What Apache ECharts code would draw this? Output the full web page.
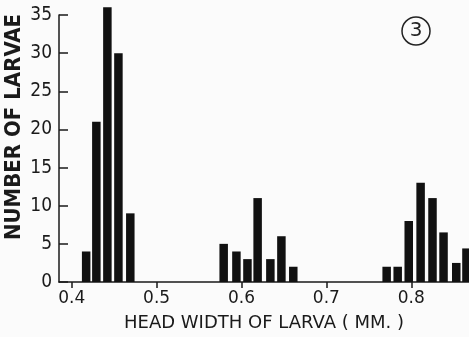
<!DOCTYPE html>
<html>
<head>
<meta charset="utf-8">
<script src="https://cdn.jsdelivr.net/npm/echarts@6/dist/echarts.min.js"></script>
<style>
  html, body { margin: 0; padding: 0; background: #fbfbfb; }
  #chart { width: 469px; height: 337px; }
</style>
</head>
<body>
<div id="chart"></div>
<script>
// head width classes (mm) and number of larvae
const headWidth = [
  0.417, 0.429, 0.442, 0.455, 0.469,
  0.579, 0.594, 0.607, 0.619, 0.634, 0.647, 0.661,
  0.771, 0.784, 0.797, 0.811, 0.825, 0.838, 0.853, 0.865,
]
const larvae = [
  4, 21, 36, 30, 9,
  5, 4, 3, 11, 3, 6, 2,
  2, 2, 8, 13, 11, 6.5, 2.5, 4.4,
]
const xTicks = [0.4, 0.5, 0.6, 0.7, 0.8]

const ink = '#1a1a1a'
const chart = echarts.init(document.getElementById('chart'))

const option = {
  backgroundColor: '#fbfbfb',
  animation: false,
  grid: { left: 59, right: 0, top: 15, bottom: 53.5 },
  xAxis: {
    type: 'value',
    min: 0.385,
    max: 0.868,
    splitLine: { show: false },
    axisLine: { lineStyle: { color: ink, width: 1.5 } },
    axisTick: {
      customValues: xTicks,
      length: 6,
      lineStyle: { color: ink, width: 1.5 },
    },
    axisLabel: {
      customValues: xTicks,
      formatter: v => v.toFixed(1),
      margin: 8,
      color: ink,
      fontFamily: 'DejaVu Sans',
      fontSize: 17,
    },
    name: 'HEAD WIDTH OF LARVA ( MM. )',
    nameLocation: 'middle',
    nameGap: 32,
    nameTextStyle: { color: ink, fontFamily: 'DejaVu Sans', fontSize: 18 },
  },
  yAxis: {
    type: 'value',
    min: 0,
    max: 35,
    interval: 5,
    splitLine: { show: false },
    axisLine: { show: true, lineStyle: { color: ink, width: 1.5 } },
    axisTick: { inside: true, length: 9, lineStyle: { color: ink, width: 1.5 } },
    axisLabel: {
      margin: 7,
      color: ink,
      fontFamily: 'DejaVu Sans Condensed',
      fontSize: 19,
    },
  },
  series: [
    {
      type: 'bar',
      data: headWidth.map((w, i) => [w, larvae[i]]),
      barWidth: 8.5,
      clip: false,
      itemStyle: { color: '#111' },
    },
  ],
  graphic: [
    {
      type: 'text',
      x: 14,
      y: 127,
      rotation: Math.PI / 2,
      style: {
        text: 'NUMBER OF LARVAE',
        fill: ink,
        font: 'bold 22px "DejaVu Sans Condensed"',
        align: 'center',
        verticalAlign: 'middle',
      },
    },
    {
      type: 'circle',
      shape: { cx: 416, cy: 31, r: 14 },
      style: { fill: 'none', stroke: '#222', lineWidth: 1.5 },
    },
    {
      type: 'text',
      x: 416,
      y: 31,
      style: {
        text: '3',
        fill: '#222',
        font: '20px "DejaVu Sans"',
        align: 'center',
        verticalAlign: 'middle',
      },
    },
  ],
}
chart.setOption(option)
</script>
</body>
</html>
